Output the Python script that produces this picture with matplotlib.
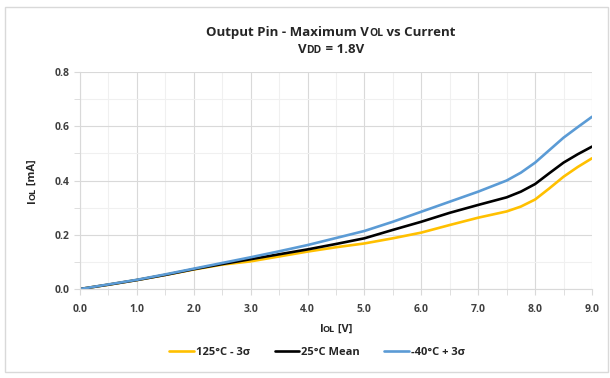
import matplotlib
matplotlib.use("Agg")
import matplotlib.pyplot as plt
from matplotlib.patches import Rectangle
from matplotlib.ticker import MultipleLocator

# data
v_ol = [0.0, 0.5, 1.0, 1.5, 2.0, 2.5, 3.0, 3.5, 4.0, 4.5, 5.0, 5.5, 6.0, 6.5, 7.0,
        7.5, 7.75, 8.0, 8.25, 8.5, 8.75, 9.0]
i_hot = [0.0, 0.016, 0.033, 0.052, 0.072, 0.090, 0.102, 0.120, 0.138, 0.154, 0.168, 0.187, 0.208, 0.236, 0.263,
         0.286, 0.304, 0.330, 0.371, 0.414, 0.450, 0.482]
i_mean = [0.0, 0.016, 0.033, 0.052, 0.073, 0.092, 0.110, 0.128, 0.146, 0.166, 0.187, 0.218, 0.248, 0.281, 0.310,
          0.338, 0.359, 0.387, 0.427, 0.466, 0.497, 0.525]
i_cold = [0.0, 0.017, 0.034, 0.054, 0.075, 0.096, 0.117, 0.139, 0.162, 0.188, 0.214, 0.248, 0.285, 0.322, 0.359,
          0.400, 0.429, 0.466, 0.512, 0.558, 0.597, 0.635]
names = ["125°C - 3σ", "25°C Mean", "-40°C + 3σ"]
colors = ["#FFC000", "#000000", "#5B9BD5"]

plt.rcParams["font.family"] = ["Open Sans", "DejaVu Sans"]
txt_col = "#262626"
tick_col = "#404040"

fig = plt.figure(figsize=(6.10, 3.78), dpi=100)
ax = fig.add_axes([0.1311, 0.2354, 0.8394, 0.5741])

for y, c, n in zip([i_hot, i_mean, i_cold], colors, names):
    ax.plot(v_ol, y, color=c, lw=1.9, label=n, solid_capstyle="round", solid_joinstyle="round")

ax.set_xlim(0, 9)
ax.set_ylim(0, 0.8)
ax.xaxis.set_major_locator(MultipleLocator(1))
ax.xaxis.set_minor_locator(MultipleLocator(0.5))
ax.yaxis.set_major_locator(MultipleLocator(0.2))
ax.yaxis.set_minor_locator(MultipleLocator(0.1))
ax.xaxis.set_major_formatter(lambda v, p: f"{v:.1f}")
ax.yaxis.set_major_formatter(lambda v, p: f"{v:.1f}")
ax.grid(which="major", color="#d9d9d9", lw=0.8)
ax.grid(which="minor", color="#f0f0f0", lw=0.8)
ax.set_axisbelow(True)
for s in ["top", "right"]:
    ax.spines[s].set_visible(False)
for s in ["left", "bottom"]:
    ax.spines[s].set_color("#d9d9d9")
ax.tick_params(which="both", length=4, color="#d9d9d9", labelsize=7.5, labelcolor=tick_col)
ax.tick_params(axis="x", pad=7)
for lab in ax.get_xticklabels() + ax.get_yticklabels():
    lab.set_fontweight("bold")

leg = fig.legend(loc="center", bbox_to_anchor=(0.52, 0.068), ncol=3, frameon=False,
                 fontsize=8, handlelength=2.2, handletextpad=0.2, columnspacing=2.2)
for t in leg.get_texts():
    t.set_fontweight("bold")
    t.set_color(txt_col)

# outer chart border
fig.patches.append(Rectangle((5 / 610, 6 / 378), 603 / 610, 365 / 378, transform=fig.transFigure,
                             fill=False, ec="#d9d9d9", lw=1))


def rich(x, y, parts, rotation=0):
    # draw text pieces of mixed size side by side, centred on (x, y) in pixels
    fig.canvas.draw()
    r = fig.canvas.get_renderer()
    objs = []
    total = 0
    for s, size, kern in parts:
        t = fig.text(0, 0, s, fontsize=size, fontweight="bold", color=txt_col,
                     va="baseline", ha="left", rotation_mode="anchor")
        w = t.get_window_extent(r).width + kern
        t.set_rotation(rotation)
        objs.append((t, w))
        total += w
    pos = -total / 2
    for t, w in objs:
        if rotation:
            t.set_position((x / 610, (378 - y + pos) / 378))
        else:
            t.set_position(((x + pos) / 610, (378 - y) / 378))
        pos += w


rich(331, 36, [("Output Pin - Maximum V", 9.5, 0), ("OL", 7.5, 0), (" vs Current", 9.5, 0)])
rich(331, 53, [("V", 9.5, 0), ("DD", 7.5, 0), (" = 1.8V", 9.5, 0)])
rich(336, 332, [("I", 8, -1), ("OL", 6.5, 0), (" [V]", 8, 0)])
rich(35, 181, [("I", 8, -1), ("OL", 6.5, 0), (" [mA]", 8, 0)], rotation=90)

fig.savefig("out.png", dpi=100)
